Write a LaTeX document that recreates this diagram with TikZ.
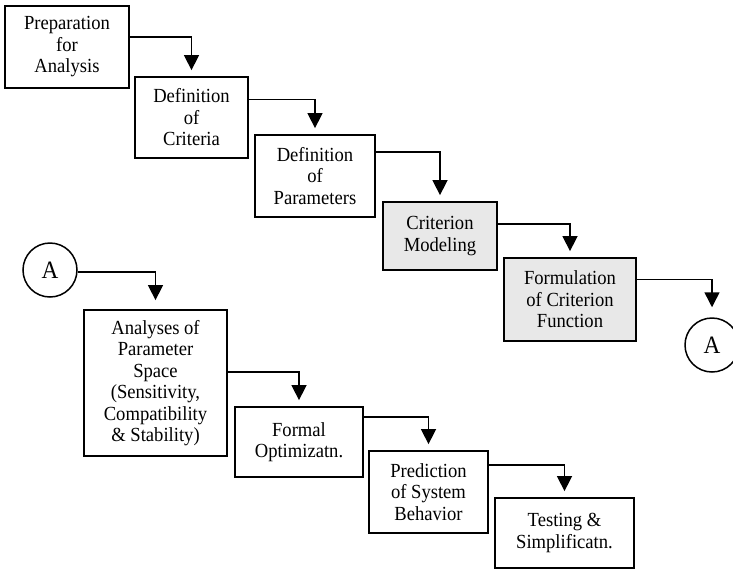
\documentclass[tikz,border=0pt]{standalone}
\usepackage{fontspec}
\setmainfont[FakeStretch=0.93]{Liberation Serif}
\usetikzlibrary{arrows.meta, positioning, calc}
\definecolor{colGrey}{RGB}{232, 232, 232}

\begin{document}
\begin{tikzpicture}[x=1pt, y=-1pt,
    every node/.style={font=\fontsize{20}{21.5}\selectfont, align=center},
    box/.style={draw, line width=1.8pt, inner sep=0pt},
    shaded/.style={box, fill=colGrey},
    conn/.style={draw, circle, line width=1.5pt, minimum size=54pt, inner sep=0pt,
        font=\fontsize{25}{28}\selectfont},
    flow/.style={line width=1.5pt, -{Triangle[length=15pt, width=15pt]}, shorten >=6pt}]
    \useasboundingbox (0,0) rectangle (733,571);

    % --- Upper chain ---
    \node[box, minimum width=124pt, minimum height=82pt] (prep) at (67, 47) {Preparation\\for\\Analysis};
    \node[box, minimum width=113pt, minimum height=81pt] (crit) at (191.5, 117.5) {Definition\\of\\Criteria};
    \node[box, minimum width=120pt, minimum height=82pt] (param) at (315, 176) {Definition\\of\\Parameters};
    \node[shaded, minimum width=114pt, minimum height=68pt] (model) at (440, 236) {Criterion\\Modeling};
    \node[shaded, minimum width=132pt, minimum height=83pt] (formul) at (570, 299.5) {Formulation\\of Criterion\\Function};
    \node[conn] (conB) at (712, 345) {A};

    % --- Lower chain ---
    \node[conn] (conA) at (50, 270) {A};
    \node[box, minimum width=143pt, minimum height=146pt] (space) at (155.5, 383) {Analyses of\\Parameter\\Space\\(Sensitivity,\\Compatibility\\\& Stability)};
    \node[box, minimum width=128pt, minimum height=70pt] (optim) at (299, 442) {Formal\\Optimizatn.};
    \node[box, minimum width=119pt, minimum height=82pt] (predict) at (428.5, 492) {Prediction\\of System\\Behavior};
    \node[box, minimum width=139pt, minimum height=70pt] (test) at (564.5, 533) {Testing \&\\Simplificatn.};

    % Connectors (right side -> top of next)
    \draw[flow] ([yshift=10pt]prep.east) -| (crit.north);
    \draw[flow] ([yshift=18pt]crit.east) -| (param.north);
    \draw[flow] ([yshift=24pt]param.east) -| (model.north);
    \draw[flow] ([yshift=12pt]model.east) -| (formul.north);
    \draw[flow, shorten >=10pt] ([yshift=20pt]formul.east) -| (conB.north);
    \draw[flow, shorten >=9pt] ([yshift=-2pt]conA.east) -| (space.north);
    \draw[flow] ([yshift=11pt]space.east) -| (optim.north);
    \draw[flow] ([yshift=25pt]optim.east) -| (predict.north);
    \draw[flow] ([yshift=27pt]predict.east) -| (test.north);

\end{tikzpicture}
\end{document}
